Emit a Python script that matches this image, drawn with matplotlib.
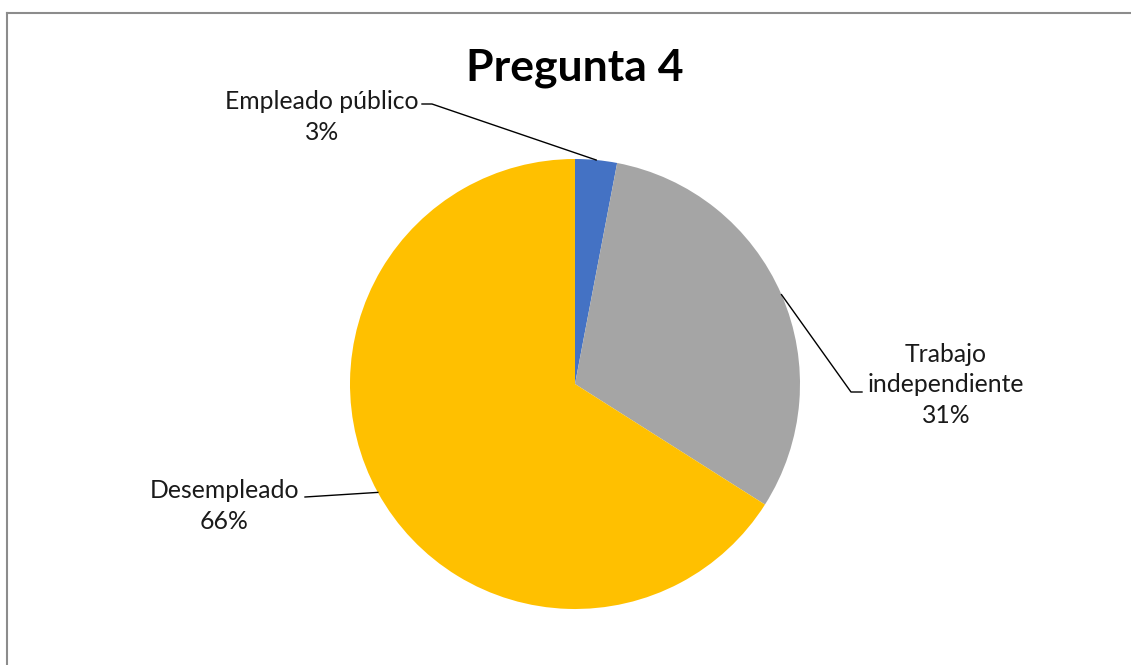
import numpy as np
import matplotlib
matplotlib.use("Agg")
import matplotlib.pyplot as plt
from matplotlib.lines import Line2D

categories = ["Empleado público", "Trabajo\nindependiente", "Desempleado"]
values = [3, 31, 66]
colors = ["#4472C4", "#A5A5A5", "#FFC000"]
title = "Pregunta 4"

W, H, DPI = 1131, 665, 100
plt.rcParams['font.family'] = ['Lato', 'DejaVu Sans']
fig = plt.figure(figsize=(W / DPI, H / DPI), dpi=DPI)
fig.patch.set_facecolor("white")

def fx(px):
    return px / W

def fy(py):
    return 1 - py / H

cx, cy, r = 575, 384, 225
ax = fig.add_axes([fx(cx - r), fy(cy + r), 2 * r / W, 2 * r / H])
wedges, _ = ax.pie(values, colors=colors, startangle=90, counterclock=False,
                   radius=1.0, wedgeprops=dict(linewidth=0))
ax.set_xlim(-1, 1)
ax.set_ylim(-1, 1)
ax.set_aspect("equal")
ax.axis("off")

fig.text(fx(575), fy(68), title, ha="center", va="center", fontsize=32,
         fontweight="bold", color="black")

# label positions (pixel), knee points
label_pos = [(322, 117), (946, 385), (224, 506)]
knees = [((422, 104), (432, 104)), ((862, 392), (851, 392)), ((305, 497), (305, 497))]

fig.canvas.draw()
for w, cat, v, (lx, ly), (k1, k2) in zip(wedges, categories, values, label_pos, knees):
    ang = np.deg2rad((w.theta1 + w.theta2) / 2)
    px, py = ax.transData.transform((np.cos(ang), np.sin(ang)))
    ex, ey = px / W, py / H
    xs = [fx(k1[0]), fx(k2[0]), ex]
    ys = [fy(k1[1]), fy(k2[1]), ey]
    fig.add_artist(Line2D(xs, ys, transform=fig.transFigure, color="black", lw=1.0))
    fig.text(fx(lx), fy(ly), f"{cat}\n{v}%", ha="center", va="center",
             fontsize=17.8, color="#1a1a1a", linespacing=1.42)

# frame
fig.add_artist(Line2D([fx(7), fx(W)], [fy(13), fy(13)], transform=fig.transFigure,
                      color="#8c8c8c", lw=1.5))
fig.add_artist(Line2D([fx(7), fx(7)], [fy(13), fy(H)], transform=fig.transFigure,
                      color="#8c8c8c", lw=1.5))

fig.savefig("out.png", dpi=DPI)
